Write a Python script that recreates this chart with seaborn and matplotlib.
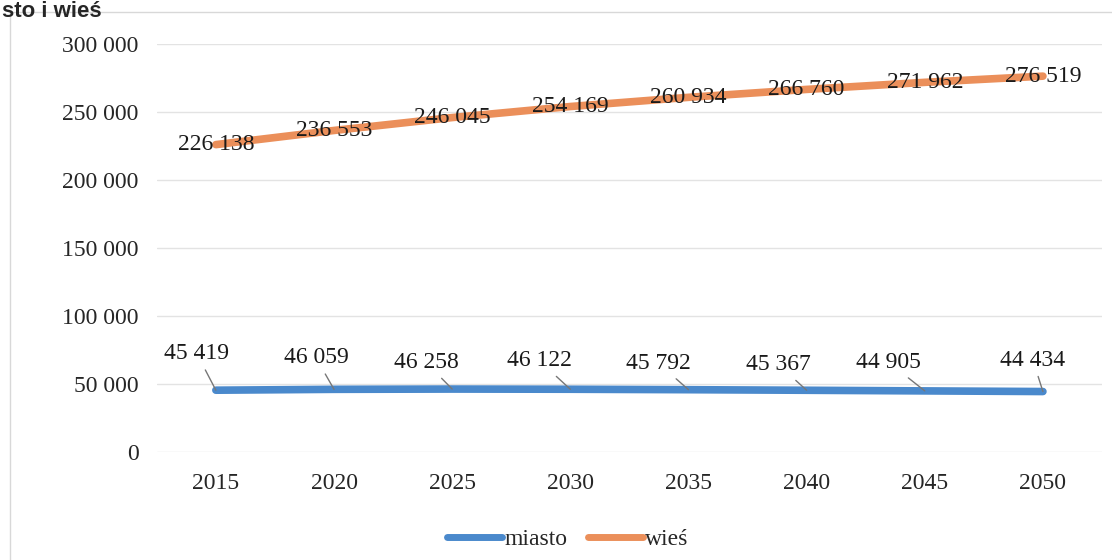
import pandas as pd
import numpy as np
import matplotlib.pyplot as plt
import seaborn as sns
from matplotlib.patches import Rectangle

lata = [2015, 2020, 2025, 2030, 2035, 2040, 2045, 2050]
miasto = [45419, 46059, 46258, 46122, 45792, 45367, 44905, 44434]
wies = [226138, 236553, 246045, 254169, 260934, 266760, 271962, 276519]
y_ticks = [0, 50000, 100000, 150000, 200000, 250000, 300000]

kolory = {"miasto": "#4a89cc", "wieś": "#eb8f5a"}


def fmt(v):
    return f"{v:,}".replace(",", " ")


def main():
    sns.set_style("white")
    plt.rcParams["font.family"] = ["Liberation Serif", "DejaVu Serif"]

    df = pd.DataFrame({
        "x": list(range(len(lata))) * 2,
        "rok": lata * 2,
        "wartosc": miasto + wies,
        "seria": ["miasto"] * len(lata) + ["wieś"] * len(lata),
    })

    fig = plt.figure(figsize=(11.12, 5.6), dpi=100)
    ax = fig.add_axes([0.141, 0.193, 0.85, 0.728])

    sns.lineplot(data=df, x="x", y="wartosc", hue="seria", palette=kolory,
                 linewidth=5.5, ax=ax, legend=True, solid_capstyle="round")

    ax.set_xlim(-0.5, 7.5)
    ax.set_ylim(0, 300000)
    ax.set_yticks(y_ticks)
    ax.set_yticklabels([fmt(t) for t in y_ticks], fontsize=17)
    ax.set_xticks(range(len(lata)))
    ax.set_xticklabels([str(r) for r in lata], fontsize=17)
    ax.tick_params(axis="x", pad=15, length=0)
    ax.tick_params(axis="y", pad=13, length=0)
    ax.grid(axis="y", color="#e3e3e3", linewidth=1)
    ax.set_axisbelow(True)
    for s in ax.spines.values():
        s.set_visible(False)
    ax.set_xlabel("")
    ax.set_ylabel("")

    # etykiety wieś - na punktach
    for i, v in enumerate(wies):
        ax.text(i, v, fmt(v), ha="center", va="center", fontsize=17, color="#1a1a1a")

    # etykiety miasto - nad linią z odnośnikami
    dx = [-19, -18, -26, -31, -30, -28, -36, -10]
    dy = [26, 21, 16, 18, 16, 15, 18, 21]
    for i, v in enumerate(miasto):
        ax.annotate(fmt(v), xy=(i, v), xytext=(dx[i], dy[i]),
                    textcoords="offset pixels", ha="center", va="bottom",
                    fontsize=17, color="#1a1a1a",
                    arrowprops=dict(arrowstyle="-", color="#777777", lw=1,
                                    shrinkA=2, shrinkB=0))

    leg = ax.legend(loc="center", bbox_to_anchor=(0.435, -0.215), ncol=2,
                    frameon=False, fontsize=17, handlelength=2.3,
                    columnspacing=0.9, handletextpad=0.1)
    for h in leg.get_lines():
        h.set_linewidth(5)

    fig.patches.append(Rectangle((0.009, -0.1), 1.2, 1.078, transform=fig.transFigure,
                                 fill=False, edgecolor="#d8d8d8", linewidth=1))
    fig.text(0.002, 0.998, "sto i wieś", ha="left", va="top", fontsize=16,
             fontweight="bold", family=["Liberation Sans", "DejaVu Sans"])

    plt.savefig("out.png", dpi=100)


if __name__ == "__main__":
    main()
